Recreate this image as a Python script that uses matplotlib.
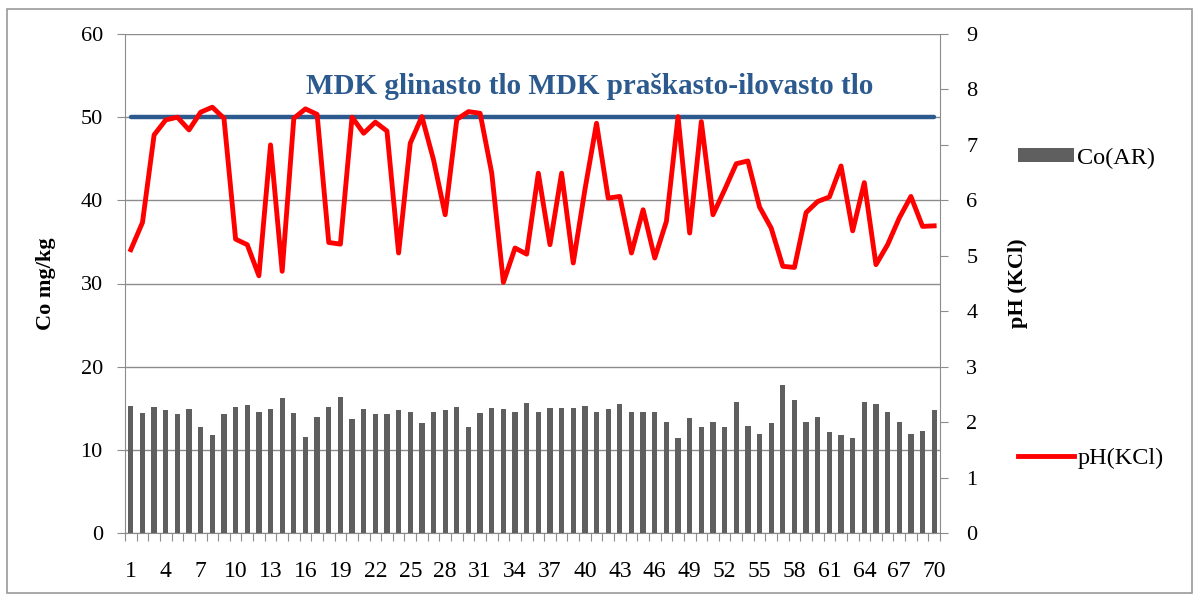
import matplotlib.pyplot as plt
import numpy as np
from matplotlib.patches import Rectangle

samples = list(range(1, 71))

co_ar = [15.3, 14.4, 15.1, 14.8, 14.3, 14.9, 12.7, 11.8, 14.3, 15.1,
         15.35, 14.5, 14.9, 16.2, 14.4, 11.5, 14.0, 15.2, 16.4, 13.7,
         14.9, 14.3, 14.3, 14.8, 14.6, 13.2, 14.5, 14.8, 15.2, 12.8,
         14.4, 15.0, 14.9, 14.5, 15.6, 14.6, 15.0, 15.0, 15.0, 15.3,
         14.5, 14.9, 15.5, 14.5, 14.5, 14.6, 13.4, 11.4, 13.8, 12.75,
         13.3, 12.75, 15.75, 12.9, 11.9, 13.2, 17.8, 16.0, 13.3, 14.0,
         12.2, 11.8, 11.4, 15.75, 15.5, 14.6, 13.3, 11.9, 12.3, 14.8]

ph_kcl = [5.11, 5.60, 7.18, 7.45, 7.50, 7.27, 7.59, 7.68, 7.48, 5.30,
          5.20, 4.64, 7.00, 4.72, 7.48, 7.65, 7.55, 5.24, 5.21, 7.50,
          7.21, 7.41, 7.25, 5.05, 7.03, 7.51, 6.73, 5.74, 7.46, 7.60,
          7.57, 6.49, 4.52, 5.14, 5.03, 6.49, 5.20, 6.49, 4.87, 6.19,
          7.39, 6.04, 6.07, 5.05, 5.83, 4.96, 5.62, 7.51, 5.41, 7.42,
          5.74, 6.19, 6.66, 6.71, 5.88, 5.50, 4.81, 4.79, 5.78, 5.98,
          6.06, 6.62, 5.45, 6.32, 4.84, 5.20, 5.68, 6.07, 5.53, 5.54]

mdk_limit = 50
mdk_label = "MDK glinasto tlo MDK praškasto-ilovasto tlo"

plt.rcParams["font.family"] = ["Liberation Serif", "DejaVu Serif"]

W, H = 1199, 601
fig = plt.figure(figsize=(W / 100, H / 100), dpi=100)
ax = fig.add_axes([125 / W, 1 - 533 / H, (940 - 125) / W, (533 - 34) / H])

grey = "#8c8c8c"
x = np.array(samples)

bars = ax.bar(x, co_ar, width=0.45, color="#5f5f5f", zorder=2)
ax.plot([x[0], x[-1]], [mdk_limit, mdk_limit], color="#2c5a8e", lw=3.2,
        solid_capstyle="round", zorder=3)
ax.text(40.4, 53.7, mdk_label, color="#2c5a8e", fontsize=21,
        fontweight="bold", ha="center", va="center", zorder=4)

ax.set_xlim(0.5, 70.5)
ax.set_ylim(0, 60)
ax.set_yticks(range(0, 61, 10))
ax.grid(axis="y", color=grey, lw=1, zorder=0)
ax.set_axisbelow(True)

ax.set_xticks(np.arange(0.5, 71, 1))
ax.set_xticklabels([])
ax.set_xticks(samples[::3], minor=True)
ax.set_xticklabels([str(s) for s in samples[::3]], minor=True)
ax.tick_params(axis="x", which="major", length=6, color=grey, direction="out")
ax.tick_params(axis="x", which="minor", length=0, labelsize=17, pad=20)
ax.tick_params(axis="y", length=6, color=grey, labelsize=16, pad=10)

for s in ["left", "bottom", "right"]:
    ax.spines[s].set_color(grey)
ax.spines["top"].set_visible(False)

ax.set_ylabel("Co mg/kg", fontsize=16, fontweight="bold", labelpad=18)

ax2 = ax.twinx()
line, = ax2.plot(x, ph_kcl, color="#ff0000", lw=3.5, zorder=5)
ax2.set_ylim(0, 9)
ax2.set_yticks(range(0, 10))
ax2.tick_params(axis="y", length=6, color=grey, labelsize=16, pad=13)
for s in ["left", "bottom", "right", "top"]:
    ax2.spines[s].set_visible(False)
ax2.set_ylabel("pH (KCl)", fontsize=16, fontweight="bold", labelpad=22)

fig.legend([bars], ["Co(AR)"], loc="center left", frameon=False,
           bbox_to_anchor=(996 / W, 1 - 158 / H), fontsize=17.5,
           handlelength=2.3, handleheight=0.55, handletextpad=0.15)
fig.legend([line], ["pH(KCl)"], loc="center left", frameon=False,
           bbox_to_anchor=(996 / W, 1 - 458 / H), fontsize=17.5,
           handlelength=2.3, handletextpad=0.15)

fig.patches.append(Rectangle((7 / W, 8 / H), (1192 - 7) / W, (592 - 8) / H,
                             transform=fig.transFigure, fill=False,
                             edgecolor="#9a9a9a", lw=1.2))

fig.savefig("out.png", dpi=100)
